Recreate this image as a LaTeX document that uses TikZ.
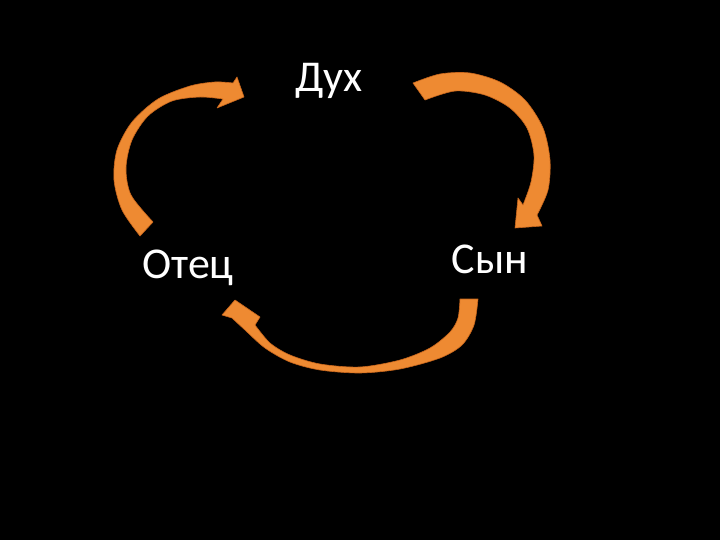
\documentclass[tikz,border=0pt]{standalone}
\usepackage{fontspec}
\setmainfont{Carlito}
\usepackage{xcolor}
\definecolor{slide}{HTML}{000000}
\definecolor{flow}{HTML}{EE8A32}
\definecolor{flowedge}{HTML}{C8661C}

\begin{document}
\begin{tikzpicture}[x=1pt,y=-1pt,
  persona/.style={text=white,font=\fontsize{44}{52}\selectfont,anchor=base,inner sep=0pt},
  bentarrow/.style={fill=flow,draw=flowedge,line width=0.6pt,line join=round}]
  \fill[slide] (0,0) rectangle (720,540);
  \useasboundingbox (0,0) rectangle (720,540);

  % the three names
  \node[persona] (spirit) at (329,92) {Дух};
  \node[persona] (father) at (188,278) {Отец};
  \node[persona] (son) at (490,273) {Сын};

  % Father -> Spirit
  \path[bentarrow] plot[smooth] coordinates {(140,236) (122,210) (114,180) (117,150) (132,122) (158,99) (190,86) (215,82) (233,83)}
    -- (237,77) -- (244,97) -- (217,108)
    -- plot[smooth] coordinates {(223,99) (200,97) (172,101) (148,116) (132,140) (126,168) (131,195) (153,222)} -- cycle;

  % Spirit -> Son
  \path[bentarrow] plot[smooth] coordinates {(413,83) (440,74) (470,73) (500,82) (525,100) (543,128) (550,160) (548,190) (537,215)}
    -- (542,226) -- (515,228) -- (518,198)
    -- plot[smooth] coordinates {(523,205) (531,182) (534,155) (527,128) (510,108) (485,95) (455,91) (425,100)} -- cycle;

  % Son -> Father
  \path[bentarrow] plot[smooth] coordinates {(478,299) (474,325) (462,345) (440,358) (400,369) (360,373) (320,370) (290,362) (265,348) (245,330) (232,318)}
    -- (222,315) -- (235,300) -- (260,317)
    -- plot[smooth] coordinates {(255,325) (270,343) (290,355) (320,364) (360,367) (400,360) (430,348) (450,332) (458,318) (460,299)} -- cycle;
\end{tikzpicture}
\end{document}
